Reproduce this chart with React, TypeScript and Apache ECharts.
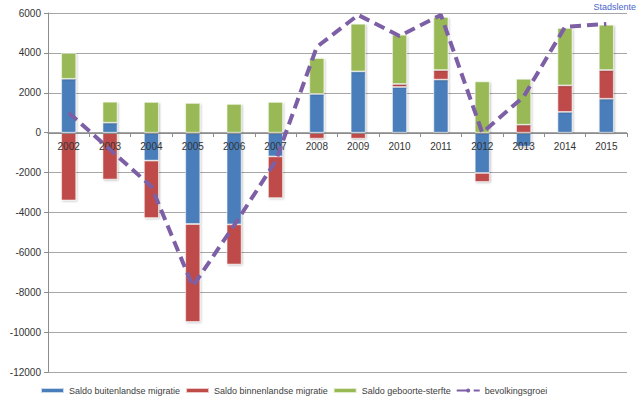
import React, { useEffect, useRef } from "react";
import * as echarts from "echarts";

const years = ["2002", "2003", "2004", "2005", "2006", "2007", "2008", "2009", "2010", "2011", "2012", "2013", "2014", "2015"];
const buitenlands = [2700, 500, -1400, -4580, -4600, -1190, 1940, 3070, 2290, 2660, -2020, -700, 1040, 1700];
const binnenlands = [-3400, -2350, -2880, -4910, -2010, -2090, -300, -300, 150, 480, -450, 400, 1330, 1440];
const geboorteSterfte = [1300, 1050, 1540, 1490, 1440, 1540, 1800, 2390, 2470, 2660, 2570, 2300, 2880, 2270];
const bevolkingsgroei = [1000, -850, -2700, -7700, -4650, -1450, 4300, 5900, 4850, 5900, 0, 1800, 5300, 5450];
const yTicks = { min: -12000, max: 6000, interval: 2000 };

const AXFONT = "'Liberation Sans', Arial, sans-serif";

export default function App() {
  const ref = useRef<HTMLDivElement>(null);
  useEffect(() => {
    if (!ref.current) return;
    const chart = echarts.init(ref.current, null, { renderer: "svg" });
    const barStyle = (color: string) => ({
      color,
      borderColor: "rgba(255,255,255,0.7)",
      borderWidth: 0.8,
      shadowColor: "rgba(0,0,0,0.25)",
      shadowBlur: 2,
      shadowOffsetX: 1,
      shadowOffsetY: 1,
    });
    chart.setOption({
      animation: false,
      backgroundColor: "#ffffff",
      textStyle: { fontFamily: AXFONT },
      grid: { left: 48, right: 13, top: 13, bottom: 39, containLabel: false },
      graphic: [
        {
          type: "text",
          right: 4,
          top: 2,
          style: { text: "Stadslente", fill: "#4a66cc", fontSize: 9, fontFamily: AXFONT },
        },
      ],
      legend: {
        bottom: 11,
        left: 35,
        itemWidth: 23,
        itemHeight: 5,
        itemGap: 5,
        textStyle: { fontSize: 9, color: "#404040", fontFamily: AXFONT },
        data: [
          { name: "Saldo buitenlandse migratie", icon: "rect" },
          { name: "Saldo binnenlandse migratie", icon: "rect" },
          { name: "Saldo geboorte-sterfte", icon: "rect" },
          { name: "bevolkingsgroei" },
        ],
      },
      xAxis: {
        type: "category",
        data: years,
        offset: -239,
        z: 3,
        axisLine: { onZero: false, lineStyle: { color: "#8c8c8c", width: 1 } },
        axisTick: { show: true, length: 4, lineStyle: { color: "#8c8c8c" } },
        axisLabel: { fontSize: 10, color: "#333333", margin: 8, fontFamily: AXFONT },
        splitLine: { show: false },
      },
      yAxis: {
        type: "value",
        min: yTicks.min,
        max: yTicks.max,
        interval: yTicks.interval,
        axisLine: { show: true, lineStyle: { color: "#8c8c8c" } },
        axisTick: { show: true, length: 4, lineStyle: { color: "#8c8c8c" } },
        axisLabel: {
          fontSize: 10,
          color: "#333333",
          margin: 7,
          fontFamily: AXFONT,
          formatter: (v: number) => String(v),
        },
        splitLine: { show: true, lineStyle: { color: "#a6a6a6", width: 1 } },
      },
      series: [
        {
          name: "Saldo buitenlandse migratie",
          type: "bar",
          stack: "s",
          barWidth: 15,
          data: buitenlands,
          itemStyle: barStyle("#4a7ebb"),
        },
        {
          name: "Saldo binnenlandse migratie",
          type: "bar",
          stack: "s",
          barWidth: 15,
          data: binnenlands,
          itemStyle: barStyle("#be4b48"),
        },
        {
          name: "Saldo geboorte-sterfte",
          type: "bar",
          stack: "s",
          barWidth: 15,
          data: geboorteSterfte,
          itemStyle: barStyle("#98b954"),
        },
        {
          name: "bevolkingsgroei",
          type: "line",
          data: bevolkingsgroei,
          symbol: "none",
          z: 5,
          itemStyle: { color: "#7d5fa6" },
          lineStyle: { color: "#7d5fa6", width: 4, type: [11, 6] },
        },
      ],
    });
    return () => chart.dispose();
  }, []);
  return (
    <div
      ref={ref}
      style={{ position: "fixed", left: 0, top: 0, width: 640, height: 411, background: "#fff" }}
    />
  );
}
